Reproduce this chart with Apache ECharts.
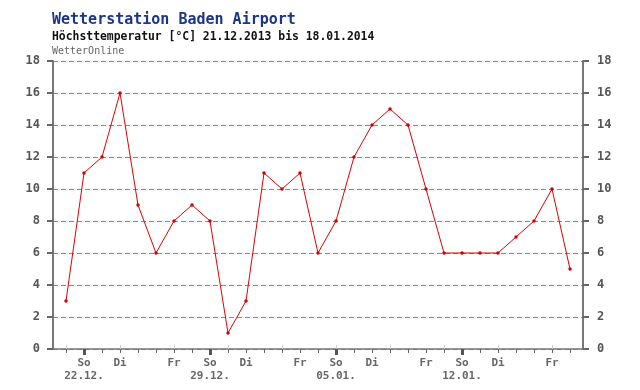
<!DOCTYPE html>
<html>
<head>
<meta charset="utf-8">
<script src="https://cdn.jsdelivr.net/npm/echarts@6/dist/echarts.min.js"></script>
<style>
html, body { margin: 0; padding: 0; background: #fff; }
#chart { width: 640px; height: 390px; }
</style>
</head>
<body>
<div id="chart"></div>
<script>
// Tage 21.12.2013 - 18.01.2014
var dates = ['21.12.', '22.12.', '23.12.', '24.12.', '25.12.', '26.12.', '27.12.', '28.12.', '29.12.', '30.12.',
    '31.12.', '01.01.', '02.01.', '03.01.', '04.01.', '05.01.', '06.01.', '07.01.', '08.01.', '09.01.',
    '10.01.', '11.01.', '12.01.', '13.01.', '14.01.', '15.01.', '16.01.', '17.01.', '18.01.'];
var weekdays = ['Sa', 'So', 'Mo', 'Di', 'Mi', 'Do', 'Fr', 'Sa', 'So', 'Mo',
    'Di', 'Mi', 'Do', 'Fr', 'Sa', 'So', 'Mo', 'Di', 'Mi', 'Do',
    'Fr', 'Sa', 'So', 'Mo', 'Di', 'Mi', 'Do', 'Fr', 'Sa'];
// Höchsttemperatur [°C]
var tmax = [3, 11, 12, 16, 9, 6, 8, 9, 8, 1,
    3, 11, 10, 11, 6, 8, 12, 14, 15, 14,
    10, 6, 6, 6, 6, 7, 8, 10, 5];
var yMin = 0, yMax = 18, yStep = 2;

var font = 'DejaVu Sans Mono';
var axisGray = '#777';

var myChart = echarts.init(document.getElementById('chart'), null, { renderer: 'canvas' });

var option = {
    animation: false,
    backgroundColor: '#fff',
    title: [{
        text: 'Wetterstation Baden Airport',
        left: 52, top: 13, padding: 0,
        textStyle: { fontFamily: font, fontSize: 15, fontWeight: 'bold', color: '#1c3687' }
    }, {
        text: 'Höchsttemperatur [°C] 21.12.2013 bis 18.01.2014',
        left: 52, top: 32, padding: 0,
        textStyle: { fontFamily: font, fontSize: 11.4, fontWeight: 'bold', color: '#111' }
    }, {
        text: 'WetterOnline',
        left: 52, top: 46, padding: 0,
        textStyle: { fontFamily: font, fontSize: 10, fontWeight: 'normal', color: '#666' }
    }],
    grid: [
        // Rahmen
        { left: 53, right: 57, top: 61, bottom: 41 },
        // Daten
        { left: 66, right: 70, top: 61, bottom: 41 }
    ],
    xAxis: [{
        gridIndex: 0, type: 'value', min: 0, max: 1,
        axisLine: { show: true, onZero: false, lineStyle: { color: axisGray, width: 1.5 } },
        axisTick: { show: false }, axisLabel: { show: false }, splitLine: { show: false }
    }, {
        gridIndex: 1, type: 'category', boundaryGap: false, data: dates, position: 'bottom',
        axisLine: { show: false },
        axisTick: { show: true, length: 4, lineStyle: { color: '#666', width: 1 } },
        axisLabel: {
            interval: 0, margin: 8, fontFamily: font, fontSize: 11, fontWeight: 'bold',
            color: '#666', lineHeight: 13,
            formatter: function(val, idx) {
                var wd = weekdays[idx];
                if (wd === 'So') return wd + '\n' + val;
                if (wd === 'Di' || wd === 'Fr') return wd + '\n';
                return '';
            }
        },
        splitLine: { show: false }
    }, {
        gridIndex: 1, type: 'category', boundaryGap: false, data: dates, position: 'bottom',
        axisLine: { show: false },
        axisTick: {
            show: true, length: 6, lineStyle: { color: '#555', width: 3 },
            interval: function(idx) { return weekdays[idx] === 'So'; }
        },
        axisLabel: { show: false },
        splitLine: { show: false }
    }, {
        // feine Striche innen
        gridIndex: 1, type: 'category', boundaryGap: false, data: dates, position: 'bottom',
        axisLine: { show: false },
        axisTick: { show: true, inside: true, length: 4, lineStyle: { color: '#ccc', width: 1 } },
        axisLabel: { show: false },
        splitLine: { show: false }
    }],
    yAxis: [{
        gridIndex: 0, type: 'value', min: yMin, max: yMax, interval: yStep, position: 'left',
        axisLine: { show: true, lineStyle: { color: axisGray, width: 2 } },
        axisTick: { show: true, length: 6, lineStyle: { color: '#666', width: 2 } },
        axisLabel: { margin: 13, fontFamily: font, fontSize: 12, fontWeight: 'bold', color: '#555' },
        splitLine: { show: true, lineStyle: { color: '#8a8a8a', type: [5, 3], width: 1 } }
    }, {
        gridIndex: 0, type: 'value', min: yMin, max: yMax, interval: yStep, position: 'right',
        axisLine: { show: true, lineStyle: { color: axisGray, width: 2 } },
        axisTick: { show: true, length: 6, lineStyle: { color: '#666', width: 2 } },
        axisLabel: { margin: 14, fontFamily: font, fontSize: 12, fontWeight: 'bold', color: '#555' },
        splitLine: { show: false }
    }, {
        gridIndex: 1, type: 'value', min: yMin, max: yMax, show: false
    }],
    series: [{
        name: 'Tmax',
        type: 'line',
        xAxisIndex: 1,
        yAxisIndex: 2,
        data: tmax,
        symbol: 'circle',
        symbolSize: 3.5,
        lineStyle: { color: '#e00000', width: 1 },
        itemStyle: { color: '#d00000' }
    }]
};

myChart.setOption(option);
</script>
</body>
</html>
